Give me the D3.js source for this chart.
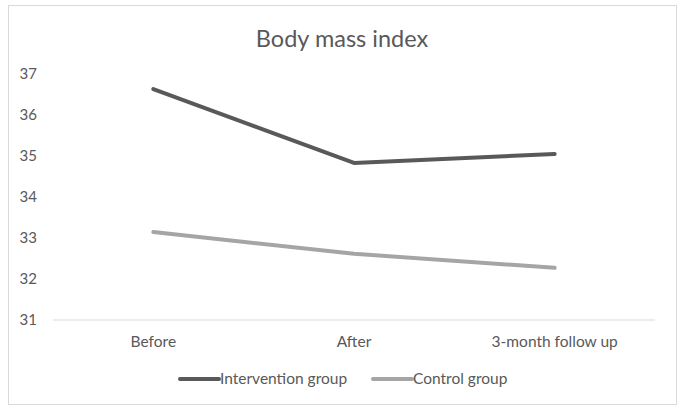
<!DOCTYPE html>
<html>
<head>
<meta charset="utf-8">
<script src="https://cdn.jsdelivr.net/npm/d3@7"></script>
<style>
  body { margin: 0; background: #fff; }
  text { font-family: Lato, "Open Sans", sans-serif; fill: #595959; }
</style>
</head>
<body>
<svg id="chart"></svg>
<script>
// data
const categories = ["Before", "After", "3-month follow up"];
const intervention = [36.62, 34.82, 35.04];
const control = [33.14, 32.61, 32.27];
const yTicks = [31, 32, 33, 34, 35, 36, 37];
const seriesNames = ["Intervention group", "Control group"];
const seriesColors = ["#595959", "#a5a5a5"];

const width = 685, height = 413;
const svg = d3.select("#chart").attr("width", width).attr("height", height);

// chart frame
svg.append("rect")
  .attr("x", 8.5).attr("y", 5.5)
  .attr("width", 668).attr("height", 399)
  .attr("fill", "#fff").attr("stroke", "#d9d9d9");

svg.append("text")
  .attr("x", 342).attr("y", 47)
  .attr("text-anchor", "middle")
  .style("font-size", "23.5px")
  .text("Body mass index");

const x = d3.scaleBand().domain(categories).range([53, 655]);
const y = d3.scaleLinear().domain([31, 37]).range([320, 73.4]);

// y labels
svg.append("g").selectAll("text")
  .data(yTicks).enter().append("text")
  .attr("x", 37).attr("y", d => y(d))
  .attr("dy", "0.35em")
  .attr("text-anchor", "end")
  .style("font-size", "15px")
  .text(d => d);

// baseline
svg.append("line")
  .attr("x1", 53).attr("x2", 655)
  .attr("y1", y(31)).attr("y2", y(31))
  .attr("stroke", "#d9d9d9").attr("stroke-width", 1);

// category labels
svg.append("g").selectAll("text")
  .data(categories).enter().append("text")
  .attr("x", d => x(d) + x.bandwidth() / 2)
  .attr("y", 347)
  .attr("text-anchor", "middle")
  .style("font-size", "15.5px")
  .text(d => d);

const line = d3.line()
  .x((d, i) => x(categories[i]) + x.bandwidth() / 2)
  .y(d => y(d));

[intervention, control].forEach((s, k) => {
  svg.append("path")
    .attr("d", line(s))
    .attr("fill", "none")
    .attr("stroke", seriesColors[k])
    .attr("stroke-width", 4)
    .attr("stroke-linecap", "round")
    .attr("stroke-linejoin", "round");
});

// legend
const legendX = [180, 373];
seriesNames.forEach((name, k) => {
  svg.append("line")
    .attr("x1", legendX[k]).attr("x2", legendX[k] + 39)
    .attr("y1", 379).attr("y2", 379)
    .attr("stroke", seriesColors[k]).attr("stroke-width", 4)
    .attr("stroke-linecap", "round");
  svg.append("text")
    .attr("x", legendX[k] + 40).attr("y", 379)
    .attr("dy", "0.35em")
    .style("font-size", "15.5px")
    .text(name);
});
</script>
</body>
</html>
